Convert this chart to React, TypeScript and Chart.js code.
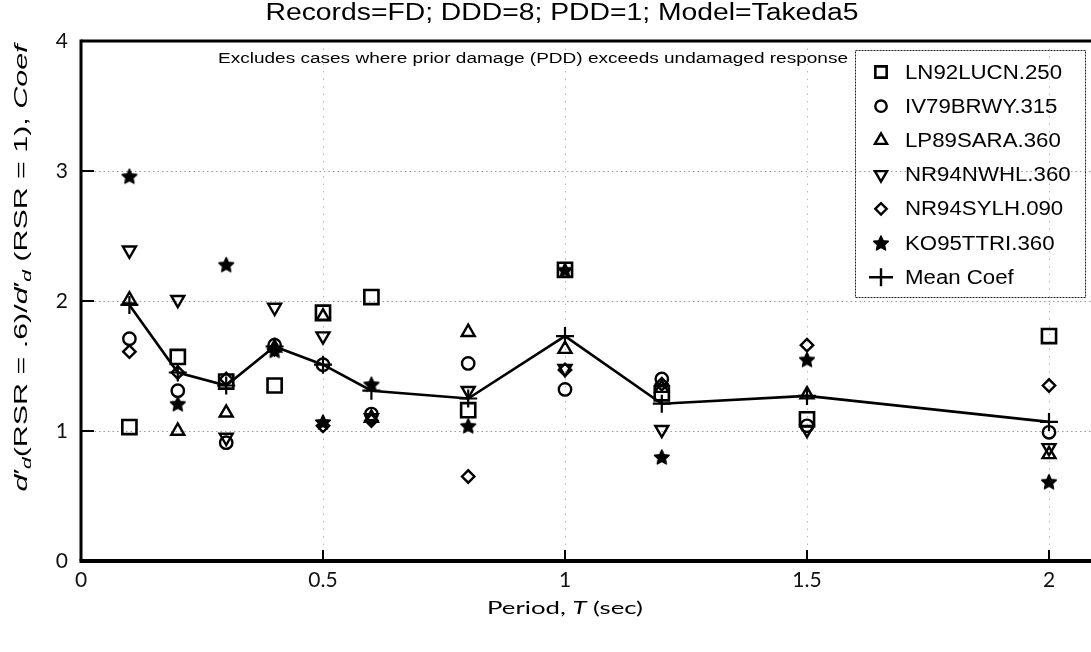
import React, { useEffect, useRef } from 'react';
import { Chart, registerables } from 'chart.js';
import { drawPoint } from 'chart.js/helpers';

Chart.register(...registerables);

// ---------- data ----------
const periods = [0.1, 0.2, 0.3, 0.4, 0.5, 0.6, 0.8, 1.0, 1.2, 1.5, 2.0];
const ln92lucn = [1.03, 1.57, 1.38, 1.35, 1.91, 2.03, 1.16, 2.24, 1.29, 1.09, 1.73];
const iv79brwy = [1.71, 1.31, 0.91, 1.66, 1.51, 1.13, 1.52, 1.32, 1.40, 1.04, 0.99];
const lp89sara = [2.01, 1.00, 1.14, 1.64, 1.88, 1.10, 1.76, 1.63, 1.33, 1.28, 0.82];
const nr94nwhl = [2.39, 2.01, 0.95, 1.95, 1.73, 1.10, 1.31, 1.48, 1.01, 1.01, 0.87];
const nr94sylh = [1.61, 1.45, 1.40, 1.63, 1.04, 1.08, 0.65, 1.47, 1.36, 1.66, 1.35];
const ko95ttri = [2.96, 1.21, 2.28, 1.62, 1.07, 1.36, 1.04, 2.24, 0.80, 1.55, 0.61];
const meanCoef = [1.97, 1.45, 1.35, 1.65, 1.51, 1.31, 1.25, 1.73, 1.21, 1.27, 1.07];

const seriesNames = ['LN92LUCN.250', 'IV79BRWY.315', 'LP89SARA.360', 'NR94NWHL.360', 'NR94SYLH.090', 'KO95TTRI.360', 'Mean Coef'];
const xTickValues = [0, 0.5, 1, 1.5, 2];
const yTickValues = [0, 1, 2, 3, 4];
const titleText = 'Records=FD; DDD=8; PDD=1; Model=Takeda5';
const noteText = 'Excludes cases where prior damage (PDD) exceeds undamaged response';

const SANS = '"Liberation Sans", Arial, Helvetica, sans-serif';
const NARROW = '"Liberation Sans Narrow", "Liberation Sans", Arial, sans-serif';
const GOTHIC = 'Lato, "DejaVu Sans", sans-serif';

function makeStar(): HTMLCanvasElement {
  const c = document.createElement('canvas');
  c.width = 18;
  c.height = 18;
  const g = c.getContext('2d')!;
  g.fillStyle = '#000';
  g.strokeStyle = '#000';
  g.lineWidth = 1.6;
  g.lineJoin = 'round';
  g.beginPath();
  for (let i = 0; i < 10; i++) {
    const r = i % 2 === 0 ? 7.6 : 3.6;
    const a = -Math.PI / 2 + (i * Math.PI) / 5;
    const px = 9 + r * Math.cos(a);
    const py = 9.7 + r * Math.sin(a);
    if (i === 0) g.moveTo(px, py);
    else g.lineTo(px, py);
  }
  g.closePath();
  g.fill();
  g.stroke();
  return c;
}

function drawFitted(ctx: CanvasRenderingContext2D, text: string, font: string, cx: number, cy: number, width: number) {
  ctx.save();
  ctx.font = font;
  const w = ctx.measureText(text).width;
  const s = width / w;
  ctx.translate(cx, cy);
  ctx.scale(s, 1);
  ctx.textAlign = 'center';
  ctx.textBaseline = 'middle';
  ctx.fillStyle = '#000';
  ctx.fillText(text, 0, 0);
  ctx.restore();
}

type Piece = { t: string; font: string; dy?: number };

function drawRich(ctx: CanvasRenderingContext2D, pieces: Piece[], width: number | null) {
  let total = 0;
  const ws: number[] = [];
  for (const p of pieces) {
    ctx.font = p.font;
    const w = ctx.measureText(p.t).width;
    ws.push(w);
    total += w;
  }
  const s = width ? width / total : 1;
  ctx.save();
  ctx.scale(s, 1);
  let x = -total / 2;
  ctx.textAlign = 'left';
  ctx.textBaseline = 'middle';
  ctx.fillStyle = '#000';
  pieces.forEach((p, i) => {
    ctx.font = p.font;
    ctx.fillText(p.t, x, p.dy || 0);
    x += ws[i];
  });
  ctx.restore();
}

export default function App() {
  const ref = useRef<HTMLCanvasElement | null>(null);

  useEffect(() => {
    if (!ref.current) return;
    const star = makeStar();

    const mk = (label: string, data: number[], style: any, radius: number, bw: number, rotation = 0) => ({
      type: 'scatter' as const,
      label,
      data: periods.map((p, i) => ({ x: p, y: data[i] })),
      showLine: false,
      pointStyle: style,
      pointRadius: radius,
      pointRotation: rotation,
      pointBorderWidth: bw,
      pointBorderColor: '#000',
      pointBackgroundColor: 'rgba(0,0,0,0)',
      borderColor: '#000',
      backgroundColor: 'rgba(0,0,0,0)',
      clip: false,
    });

    const datasets: any[] = [
      mk(seriesNames[0], ln92lucn, 'rect', 10, 2.6),
      mk(seriesNames[1], iv79brwy, 'circle', 6.2, 2.4),
      mk(seriesNames[2], lp89sara, 'triangle', 7.5, 2.4),
      mk(seriesNames[3], nr94nwhl, 'triangle', 7.5, 2.4, 180),
      mk(seriesNames[4], nr94sylh, 'rectRot', 6.2, 2.4),
      mk(seriesNames[5], ko95ttri, star, 9, 0),
      {
        type: 'line' as const,
        label: seriesNames[6],
        data: periods.map((p, i) => ({ x: p, y: meanCoef[i] })),
        showLine: true,
        borderColor: '#000',
        borderWidth: 2.6,
        backgroundColor: 'rgba(0,0,0,0)',
        pointStyle: 'cross',
        pointRadius: 9,
        pointBorderWidth: 2.2,
        pointBorderColor: '#000',
        tension: 0,
        fill: false,
        clip: false,
      },
    ];

    const overlay = {
      id: 'overlay',
      beforeDatasetsDraw(chart: any) {
        const { ctx, chartArea: a, scales } = chart;
        const x = scales.x;
        const y = scales.y;
        ctx.save();
        ctx.strokeStyle = '#9a9a9a';
        ctx.lineWidth = 1;
        ctx.setLineDash([1.5, 3]);
        for (const v of [1, 2, 3]) {
          const py = Math.round(y.getPixelForValue(v)) + 0.5;
          ctx.beginPath();
          ctx.moveTo(a.left, py);
          ctx.lineTo(a.right, py);
          ctx.stroke();
        }
        ctx.strokeStyle = '#b8b8b8';
        ctx.setLineDash([1.5, 6]);
        for (const v of [0.5, 1, 1.5, 2]) {
          const px = Math.round(x.getPixelForValue(v)) + 0.5;
          ctx.beginPath();
          ctx.moveTo(px, a.top);
          ctx.lineTo(px, a.bottom);
          ctx.stroke();
        }
        ctx.restore();
      },
      afterDraw(chart: any) {
        const { ctx, chartArea: a, scales, data } = chart;
        const x = scales.x;
        const y = scales.y;
        ctx.save();
        ctx.setLineDash([]);
        ctx.strokeStyle = '#000';
        // frame
        ctx.lineWidth = 3;
        ctx.beginPath();
        ctx.moveTo(a.left, a.top);
        ctx.lineTo(a.right, a.top);
        ctx.stroke();
        ctx.beginPath();
        ctx.moveTo(a.left, a.top - 1.5);
        ctx.lineTo(a.left, a.bottom);
        ctx.stroke();
        ctx.lineWidth = 4;
        ctx.beginPath();
        ctx.moveTo(a.left - 1.5, a.bottom);
        ctx.lineTo(a.right, a.bottom);
        ctx.stroke();
        // inward ticks
        ctx.lineWidth = 2;
        for (const v of [0.5, 1, 1.5, 2]) {
          const px = x.getPixelForValue(v);
          ctx.beginPath();
          ctx.moveTo(px, a.bottom);
          ctx.lineTo(px, a.bottom - 11);
          ctx.stroke();
        }
        for (const v of [1, 2, 3]) {
          const py = y.getPixelForValue(v);
          ctx.beginPath();
          ctx.moveTo(a.left, py);
          ctx.lineTo(a.left + 13, py);
          ctx.stroke();
        }

        // title and note
        drawFitted(ctx, titleText, `23px ${NARROW}`, 562, 14, 593);
        drawFitted(ctx, noteText, `14px ${SANS}`, 533, 59, 630);

        // x axis title
        ctx.save();
        ctx.translate(565, 608);
        drawRich(ctx, [
          { t: 'Period, ', font: `18px ${GOTHIC}` },
          { t: 'T', font: `italic 18px ${GOTHIC}` },
          { t: ' (sec)', font: `18px ${GOTHIC}` },
        ], 156);
        ctx.restore();

        // y axis title (rotated)
        ctx.save();
        ctx.translate(22, 268);
        ctx.rotate(-Math.PI / 2);
        const f = `19px ${SANS}`;
        const fi = `italic 19px ${SANS}`;
        const fs = `italic 13px ${SANS}`;
        drawRich(ctx, [
          { t: 'd', font: fi },
          { t: '\u2032', font: f },
          { t: 'd', font: fs, dy: 5 },
          { t: '(RSR = .6)/', font: f },
          { t: 'd', font: fi },
          { t: '\u2032', font: f },
          { t: 'd', font: fs, dy: 5 },
          { t: ' (RSR = 1), ', font: f },
          { t: 'Coef', font: fi },
        ], 447);
        ctx.restore();

        // legend
        const lx = 855, ly = 50, lw = 230, lh = 247;
        ctx.lineWidth = 1;
        ctx.strokeStyle = '#222';
        ctx.setLineDash([2, 1]);
        ctx.strokeRect(lx + 0.5, ly + 0.5, lw, lh);
        ctx.setLineDash([]);
        ctx.font = `20px ${SANS}`;
        const sref = 157 / ctx.measureText(seriesNames[0]).width;
        data.datasets.forEach((ds: any, i: number) => {
          const cy = 72 + i * 34.2;
          const cx = 881;
          ctx.strokeStyle = '#000';
          ctx.fillStyle = 'rgba(0,0,0,0)';
          if (i === 6) {
            ctx.lineWidth = 2.4;
            ctx.beginPath();
            ctx.moveTo(cx - 12, cy);
            ctx.lineTo(cx + 12, cy);
            ctx.moveTo(cx, cy - 9);
            ctx.lineTo(cx, cy + 9);
            ctx.stroke();
          } else {
            ctx.lineWidth = ds.pointBorderWidth;
            drawPoint(ctx, {
              pointStyle: ds.pointStyle,
              rotation: ds.pointRotation,
              radius: i === 0 ? 8 : ds.pointRadius - 0.5,
              borderWidth: ds.pointBorderWidth,
            }, cx, cy);
          }
          ctx.save();
          ctx.translate(905, cy);
          ctx.scale(sref, 1);
          ctx.fillStyle = '#000';
          ctx.textAlign = 'left';
          ctx.textBaseline = 'middle';
          ctx.font = `20px ${SANS}`;
          ctx.fillText(ds.label, 0, 1);
          ctx.restore();
        });
        ctx.restore();
      },
    };

    const chart = new Chart(ref.current, {
      type: 'scatter',
      data: { datasets },
      options: {
        responsive: false,
        animation: false,
        events: [],
        layout: { autoPadding: false, padding: { left: 0, right: 0, top: 41, bottom: 0 } },
        plugins: {
          legend: { display: false },
          title: { display: false },
          tooltip: { enabled: false },
        },
        scales: {
          x: {
            type: 'linear',
            min: 0,
            max: (1091 - 81) / 484,
            border: { display: false },
            grid: { display: false, drawTicks: false },
            afterBuildTicks: (scale: any) => {
              scale.ticks = xTickValues.map((v) => ({ value: v }));
            },
            afterFit: (scale: any) => {
              scale.height = 652 - 561;
              scale.paddingLeft = 0;
              scale.paddingRight = 0;
            },
            ticks: {
              padding: 7,
              color: '#111',
              font: { family: GOTHIC, size: 21 },
              callback: (v: any) => String(v),
            },
          },
          y: {
            type: 'linear',
            min: 0,
            max: 4,
            border: { display: false },
            grid: { display: false, drawTicks: false },
            afterBuildTicks: (scale: any) => {
              scale.ticks = yTickValues.map((v) => ({ value: v }));
            },
            afterFit: (scale: any) => {
              scale.width = 81;
              scale.paddingTop = 0;
              scale.paddingBottom = 0;
            },
            ticks: {
              padding: 13,
              color: '#111',
              font: { family: GOTHIC, size: 21 },
              callback: (v: any) => String(v),
            },
          },
        },
      },
      plugins: [overlay],
    } as any);

    return () => chart.destroy();
  }, []);

  return (
    <div style={{ position: 'absolute', left: 0, top: 0, width: 1091, height: 652, background: '#fff' }}>
      <canvas ref={ref} width={1091} height={652} style={{ display: 'block' }} />
    </div>
  );
}
